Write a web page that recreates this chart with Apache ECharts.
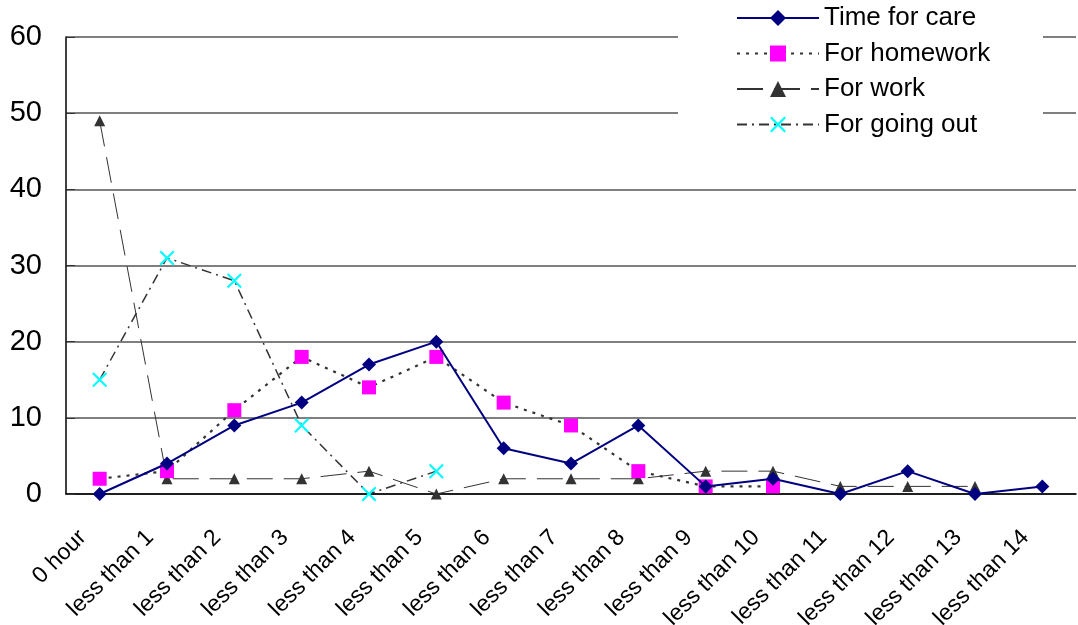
<!DOCTYPE html>
<html>
<head>
<meta charset="utf-8">
<script src="https://cdn.jsdelivr.net/npm/echarts@6/dist/echarts.min.js"></script>
<style>
  html, body { margin: 0; padding: 0; background: #fff; }
  #chart { width: 1078px; height: 625px; }
</style>
</head>
<body>
<div id="chart"></div>
<script>
// Hours spent per day, by activity
const categories = ['0 hour', 'less than 1', 'less than 2', 'less than 3', 'less than 4',
  'less than 5', 'less than 6', 'less than 7', 'less than 8', 'less than 9',
  'less than 10', 'less than 11', 'less than 12', 'less than 13', 'less than 14'];
const timeForCare = [0, 4, 9, 12, 17, 20, 6, 4, 9, 1, 2, 0, 3, 0, 1];
const forHomework = [2, 3, 11, 18, 14, 18, 12, 9, 3, 1, 1, null, null, null, null];
const forWork = [49, 2, 2, 2, 3, 0, 2, 2, 2, 3, 3, 1, 1, 1, null];
const forGoingOut = [15, 31, 28, 9, 0, 3, null, null, null, null, null, null, null, null, null];
const yTicks = [0, 10, 20, 30, 40, 50, 60];

const FONT = '"Liberation Sans", Arial, sans-serif';
const crossPath = 'path://M0,1L1,0L5,4L9,0L10,1L6,5L10,9L9,10L5,6L1,10L0,9L4,5Z';

const chart = echarts.init(document.getElementById('chart'), null, { renderer: 'canvas' });

chart.setOption({
  animation: false,
  backgroundColor: '#ffffff',
  textStyle: { fontFamily: FONT },
  grid: { left: 66, right: 2, top: 37, bottom: 131, containLabel: false, outerBoundsMode: 'none' },
  graphic: [{
    type: 'rect',
    z: 3,
    shape: { x: 678, y: 0, width: 365, height: 140 },
    style: { fill: '#ffffff' }
  }],
  legend: {
    orient: 'vertical',
    left: 736,
    top: 5,
    padding: 0,
    z: 10,
    itemWidth: 82,
    itemHeight: 20,
    itemGap: 9.5,
    textStyle: { fontSize: 26, lineHeight: 26, color: '#000', fontFamily: FONT },
    data: ['Time for care', 'For homework', 'For work', 'For going out']
  },
  xAxis: {
    type: 'category',
    data: categories,
    boundaryGap: true,
    axisLine: { lineStyle: { color: '#000', width: 1.5 } },
    axisTick: { inside: true, length: 8, lineStyle: { color: '#000' } },
    axisLabel: {
      interval: 0,
      rotate: 45,
      fontSize: 23,
      color: '#000',
      margin: 23,
      padding: [0, 24, 0, 0],
      fontFamily: FONT
    },
    splitLine: { show: false }
  },
  yAxis: {
    type: 'value',
    min: yTicks[0],
    max: yTicks[yTicks.length - 1],
    interval: 10,
    axisLine: { show: true, lineStyle: { color: '#000', width: 1.5 } },
    axisTick: { show: true, inside: true, length: 9, lineStyle: { color: '#333' } },
    axisLabel: { fontSize: 29, color: '#000', margin: 24, fontFamily: FONT },
    splitLine: { show: true, lineStyle: { color: '#7f7f7f', width: 2 } }
  },
  series: [
    {
      name: 'Time for care',
      type: 'line',
      data: timeForCare,
      symbol: 'diamond',
      symbolSize: 14,
      showAllSymbol: true,
      itemStyle: { color: '#000080' },
      lineStyle: { color: '#000080', width: 2 },
      z: 5
    },
    {
      name: 'For homework',
      type: 'line',
      data: forHomework,
      symbol: 'rect',
      symbolSize: 14,
      itemStyle: { color: '#ff00ff' },
      lineStyle: { color: '#333333', width: 2.2, type: [3, 6] },
      z: 4
    },
    {
      name: 'For work',
      type: 'line',
      data: forWork,
      symbol: 'triangle',
      symbolSize: [11, 11],
      itemStyle: { color: '#333333' },
      lineStyle: { color: '#333333', width: 1, type: [26, 11] },
      z: 3
    },
    {
      name: 'For going out',
      type: 'line',
      data: forGoingOut,
      symbol: crossPath,
      symbolSize: 15,
      itemStyle: { color: '#00ffff' },
      lineStyle: { color: '#333333', width: 1.5, type: [10, 5, 2, 5] },
      z: 3
    }
  ]
});
</script>
</body>
</html>
